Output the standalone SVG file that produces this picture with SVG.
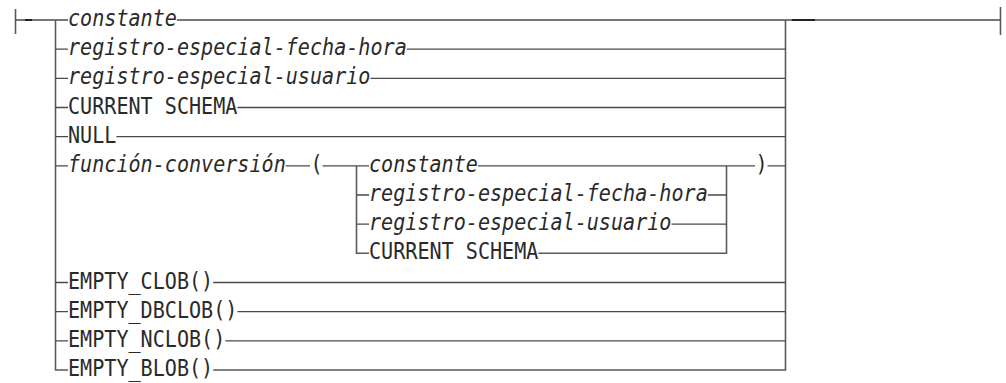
<svg xmlns="http://www.w3.org/2000/svg" width="1006" height="383" viewBox="0 0 1006 383">
<style>
.t{font-family:"DejaVu Sans Mono","Liberation Mono",monospace;font-size:20.1px;fill:#2a2a2a;}
.i{font-style:italic;}
.l{fill:none;stroke:#4a4a4a;stroke-width:1.3;}
.v{fill:none;stroke:#5a5a5a;stroke-width:1.6;}
.d{fill:none;stroke:#222;stroke-width:2.2;}
</style>
<rect width="1006" height="383" fill="#fff"/>
<g id="connectors">
<path class="v" d="M15.5 9V34M1000.5 7V35"/>
<path class="l" d="M15.5 20H68M176.9 20H785.5M785.5 20H1000.5"/>
<path class="d" d="M25 20H32M792 20H815"/>
<path class="v" d="M55.5 20V370H68M785.5 20V370H213.2"/>
<path class="l" d="M55.5 49.2H68M406.8 49.2H785.5"/>
<path class="l" d="M55.5 78.3H68M370.5 78.3H785.5"/>
<path class="l" d="M55.5 107.5H68M237.4 107.5H785.5"/>
<path class="l" d="M55.5 136.7H68M116.4 136.7H785.5"/>
<path class="l" d="M55.5 165.8H68M285.8 165.8H310M322.5 165.8H369M477.9 165.8H755M767.5 165.8H785.5"/>
<path class="v" d="M356.5 165.8V253.3H369M726.5 165.8V253.3H538.4"/>
<path class="l" d="M356.5 195H369M707.8 195H726.5"/>
<path class="l" d="M356.5 224.2H369M671.5 224.2H726.5"/>
<path class="l" d="M55.5 282.5H68M213.2 282.5H785.5"/>
<path class="l" d="M55.5 311.7H68M237.4 311.7H785.5"/>
<path class="l" d="M55.5 340.8H68M225.3 340.8H785.5"/>
</g>
<g id="n-constante" transform="translate(68,26) scale(1,1.14)"><text class="t i">constante</text></g>
<g id="n-fecha-hora" transform="translate(68,55.2) scale(1,1.14)"><text class="t i">registro-especial-fecha-hora</text></g>
<g id="n-usuario" transform="translate(68,84.3) scale(1,1.14)"><text class="t i">registro-especial-usuario</text></g>
<g id="n-current-schema" transform="translate(68,113.5) scale(1,1.14)"><text class="t">CURRENT SCHEMA</text></g>
<g id="n-null" transform="translate(68,142.7) scale(1,1.14)"><text class="t">NULL</text></g>
<g id="n-funcion" transform="translate(68,171.8) scale(1,1.14)"><text class="t i">función-conversión</text></g>
<g id="n-lparen" transform="translate(310.4,171.8) scale(1,1.14)"><text class="t">(</text></g>
<g id="n-in-constante" transform="translate(369,171.8) scale(1,1.14)"><text class="t i">constante</text></g>
<g id="n-in-fecha-hora" transform="translate(369,201) scale(1,1.14)"><text class="t i">registro-especial-fecha-hora</text></g>
<g id="n-in-usuario" transform="translate(369,230.2) scale(1,1.14)"><text class="t i">registro-especial-usuario</text></g>
<g id="n-in-current-schema" transform="translate(369,259.3) scale(1,1.14)"><text class="t">CURRENT SCHEMA</text></g>
<g id="n-rparen" transform="translate(755.4,171.8) scale(1,1.14)"><text class="t">)</text></g>
<g id="n-empty-clob" transform="translate(68,288.5) scale(1,1.14)"><text class="t">EMPTY_CLOB()</text></g>
<g id="n-empty-dbclob" transform="translate(68,317.7) scale(1,1.14)"><text class="t">EMPTY_DBCLOB()</text></g>
<g id="n-empty-nclob" transform="translate(68,346.8) scale(1,1.14)"><text class="t">EMPTY_NCLOB()</text></g>
<g id="n-empty-blob" transform="translate(68,376) scale(1,1.14)"><text class="t">EMPTY_BLOB()</text></g>
</svg>
